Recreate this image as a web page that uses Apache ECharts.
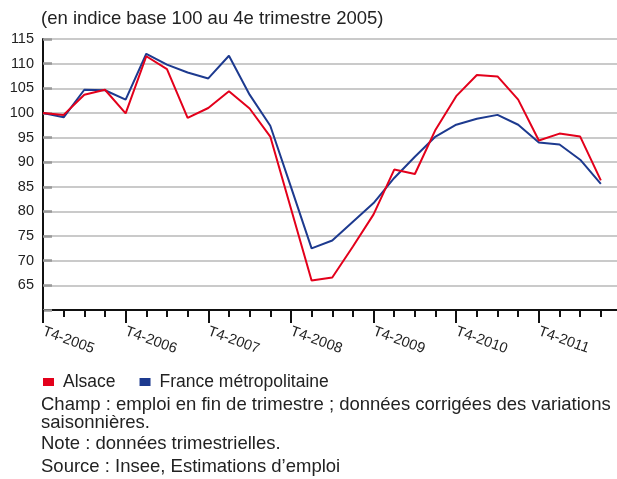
<!DOCTYPE html>
<html><head><meta charset="utf-8">
<script src="https://cdn.jsdelivr.net/npm/echarts@6/dist/echarts.min.js"></script>
<style>html,body{margin:0;padding:0;background:#fff}#c{width:617px;height:479px}</style>
</head><body><div id="c"></div>
<script>
const quarters = ['T4-2005','T1-2006','T2-2006','T3-2006','T4-2006','T1-2007','T2-2007','T3-2007','T4-2007','T1-2008','T2-2008','T3-2008','T4-2008','T1-2009','T2-2009','T3-2009','T4-2009','T1-2010','T2-2010','T3-2010','T4-2010','T1-2011','T2-2011','T3-2011','T4-2011','T1-2012','T2-2012','T3-2012',''];
const alsace = [100.0,99.6,103.7,104.7,99.9,111.5,108.9,99.0,101.0,104.4,100.9,95.2,80.6,66.0,66.6,72.9,79.4,88.5,87.6,96.6,103.4,107.7,107.4,102.7,94.4,95.8,95.2,86.3];
const france = [100.0,99.1,104.7,104.6,102.7,112.0,109.8,108.2,107.0,111.6,103.7,97.4,85.0,72.5,74.1,77.9,81.7,86.8,91.1,95.2,97.6,98.8,99.6,97.6,94.0,93.6,90.5,85.6];
const yTicks = [65,70,75,80,85,90,95,100,105,110,115];
const FONT = '"Liberation Sans", Arial, Helvetica, sans-serif';
const chart = echarts.init(document.getElementById('c'));
chart.setOption({
  animation:false,
  textStyle:{fontFamily:FONT},
  grid:{left:43,right:-4.5,top:39,bottom:169,containLabel:false,outerBoundsMode:'none'},
  legend:{left:38,top:368,icon:'rect',itemWidth:11,itemHeight:8,itemGap:24,
    textStyle:{fontFamily:FONT,fontSize:17.5,color:'#222',padding:[2,0,0,4]},
    data:['Alsace','France métropolitaine']},
  xAxis:[{type:'category',data:quarters,boundaryGap:false,
    axisLine:{lineStyle:{color:'#111',width:2}},
    axisTick:{interval:(i)=>i%4===0,length:13,lineStyle:{color:'#111',width:2}},
    axisLabel:{interval:(i)=>i%4===0,rotate:-20,margin:21,fontSize:14.5,color:'#222'},
  },{type:'category',data:quarters,boundaryGap:false,position:'bottom',
    axisLine:{show:false},
    axisTick:{interval:0,length:7,lineStyle:{color:'#111',width:2}},
    axisLabel:{show:false}}],
  yAxis:{type:'value',min:60,max:115,interval:5,
    axisLine:{show:true,lineStyle:{color:'#111',width:2}},
    axisTick:{show:true,inside:true,length:9,lineStyle:{color:'#999',width:2.5}},
    axisLabel:{fontSize:14.5,color:'#222',margin:9,verticalAlign:'middle',padding:[0,0,9,0],formatter:(v)=>yTicks.includes(v)?String(v):''},
    splitLine:{lineStyle:{color:'#b8b8b8',width:1.5}}},
  series:[
    {name:'Alsace',type:'line',data:alsace,symbol:'none',lineStyle:{color:'#e3001b',width:2},itemStyle:{color:'#e3001b'},z:3},
    {name:'France métropolitaine',type:'line',data:france,symbol:'none',lineStyle:{color:'#1d3a8f',width:2},itemStyle:{color:'#1d3a8f'},z:2}
  ],
  graphic:[
    {type:'text',left:41,top:9,style:{text:'(en indice base 100 au 4e trimestre 2005)',font:'18.5px '+FONT,fill:'#222'}},
    {type:'text',left:41,top:395,style:{text:'Champ : emploi en fin de trimestre ; données corrigées des variations\nsaisonnières.',font:'18.5px '+FONT,fill:'#222',lineHeight:18}},
    {type:'text',left:41,top:434,style:{text:'Note : données trimestrielles.',font:'18.5px '+FONT,fill:'#222'}},
    {type:'text',left:41,top:457,style:{text:'Source : Insee, Estimations d\u2019emploi',font:'18.5px '+FONT,fill:'#222'}}
  ]
});
</script></body></html>
